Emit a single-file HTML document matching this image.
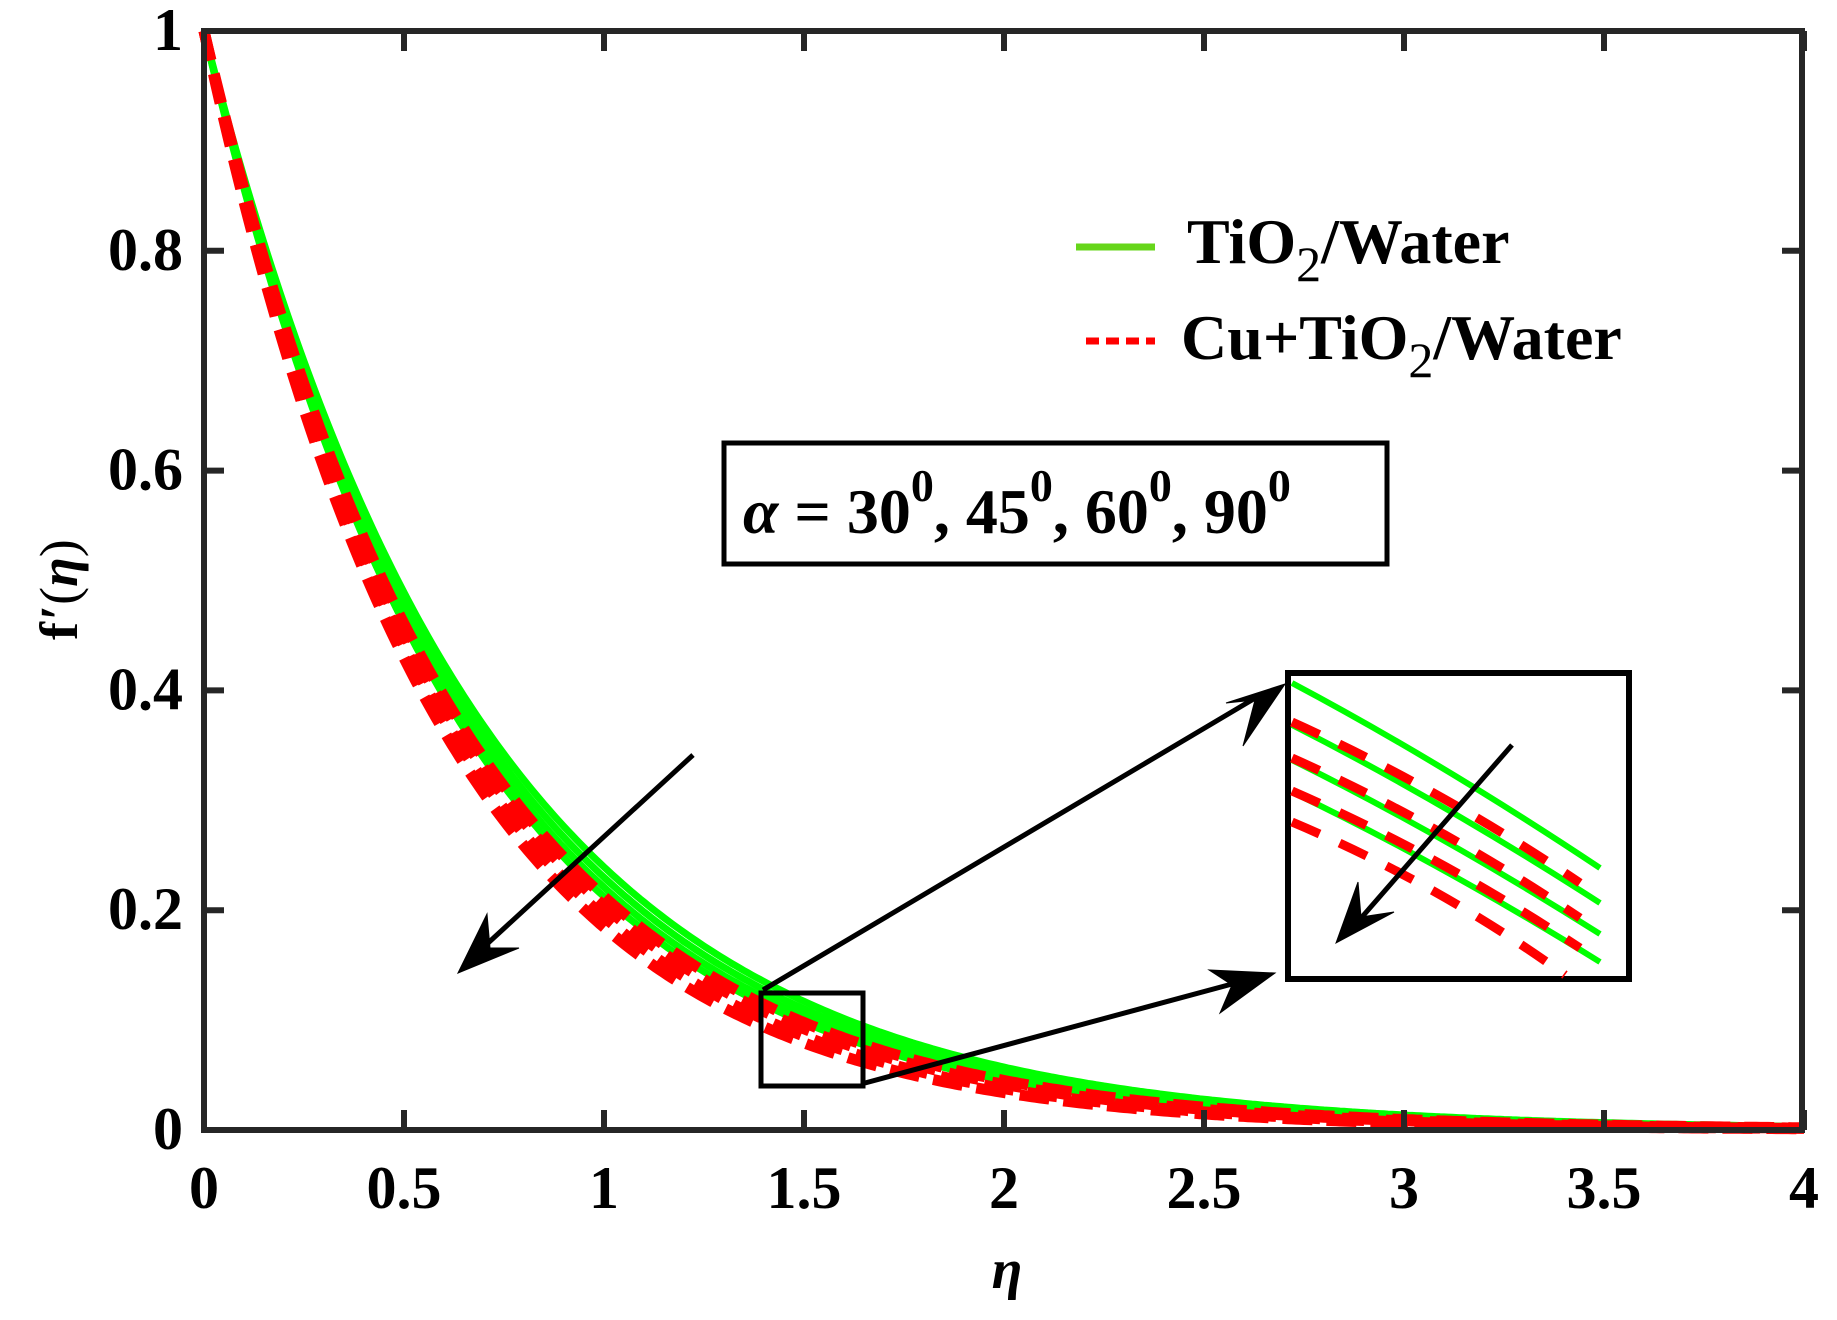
<!DOCTYPE html>
<html><head><meta charset="utf-8"><style>
html,body{margin:0;padding:0;background:#fff}
svg{display:block}
text{font-family:"Liberation Serif",serif;font-weight:bold;fill:#000}
</style></head><body>
<svg id="s" width="1837" height="1320" viewBox="0 0 1837 1320" xmlns="http://www.w3.org/2000/svg">
<g id="curves"></g>
<rect x="204" y="31" width="1598" height="1099" fill="none" stroke="#262626" stroke-width="6"/>
<g id="ticks" stroke="#262626" stroke-width="6"></g>
<g id="labels" font-size="60"></g>
<text x="1007" y="1288" font-size="56" font-style="italic" text-anchor="middle">η</text>
<text transform="translate(77,640) rotate(-90)" font-size="54">f<tspan dx="2">′</tspan><tspan font-weight="normal">(</tspan><tspan font-style="italic">η</tspan><tspan font-weight="normal">)</tspan></text>
<line x1="1076" y1="247" x2="1155" y2="247" stroke="#66d61a" stroke-width="7"/>
<text x="1187" y="263" font-size="64">TiO<tspan font-weight="normal" dy="18" font-size="50">2</tspan><tspan dy="-18">/Water</tspan></text>
<line x1="1086" y1="341" x2="1155" y2="341" stroke="#ff0000" stroke-width="7" stroke-dasharray="13 7"/>
<text x="1181" y="359" font-size="64">Cu+TiO<tspan font-weight="normal" dy="18" font-size="50">2</tspan><tspan dy="-18">/Water</tspan></text>
<rect x="724" y="443" width="663" height="121" fill="none" stroke="#000" stroke-width="5"/>
<text x="743" y="533" font-size="64" font-weight="normal"><tspan font-weight="bold" font-style="italic">α</tspan> = 30<tspan dy="-32" font-size="46">0</tspan><tspan dy="32">, 45</tspan><tspan dy="-32" font-size="46">0</tspan><tspan dy="32">, 60</tspan><tspan dy="-32" font-size="46">0</tspan><tspan dy="32">, 90</tspan><tspan dy="-32" font-size="46">0</tspan></text>
<rect x="1288" y="673" width="341" height="306" fill="none" stroke="#000" stroke-width="6"/>
<g id="inset"></g>
<rect x="761" y="993" width="102" height="93" fill="none" stroke="#000" stroke-width="5"/>
<g stroke="#000" stroke-width="5" fill="#000">
<line x1="693" y1="755" x2="475" y2="955"/>
<path d="M458,973 L487,914 L490,948 L519,948 Z" stroke-width="1"/>
<line x1="763" y1="990" x2="1262" y2="694"/>
<path d="M1285,684 L1226,703 L1255,700 L1243,746 Z" stroke-width="1"/>
<line x1="865" y1="1083" x2="1258" y2="977"/>
<path d="M1275,973 L1209,970 L1232,985 L1220,1013 Z" stroke-width="1"/>
<line x1="1512" y1="745" x2="1355" y2="925"/>
<path d="M1336,943 L1358,882 L1361,917 L1394,912 Z" stroke-width="1"/>
</g>
</svg>
<script>
var NS="http://www.w3.org/2000/svg";
function el(t,a,p){var e=document.createElementNS(NS,t);for(var k in a)e.setAttribute(k,a[k]);p.appendChild(e);return e;}
var X=function(v){return 204+400*v},Y=function(v){return 1130-1099*v};
var cg=document.getElementById('curves');
function curve(k){var d="";for(var i=0;i<=400;i++){var x=i/100;d+=(i?"L":"M")+X(x).toFixed(1)+","+Y(Math.exp(-k*x)).toFixed(1);}return d;}
[1.43,1.47,1.51,1.55].forEach(function(k){el('path',{d:curve(k),fill:'none',stroke:'#00ff00','stroke-width':7},cg);});
[1.55,1.59,1.64,1.69].forEach(function(k){el('path',{d:curve(k),fill:'none',stroke:'#ff0000','stroke-width':11,'stroke-dasharray':'30 14'},cg);});
var tg=document.getElementById('ticks'),lg=document.getElementById('labels');
var xl=["0","0.5","1","1.5","2","2.5","3","3.5","4"];
for(var i=0;i<=8;i++){var x=X(i*0.5);
 el('line',{x1:x,y1:1130,x2:x,y2:1110},tg);el('line',{x1:x,y1:31,x2:x,y2:51},tg);
 var t=el('text',{x:x,y:1208,'text-anchor':'middle'},lg);t.textContent=xl[i];}
var yl=["0","0.2","0.4","0.6","0.8","1"];
for(var j=0;j<=5;j++){var y=Y(j*0.2);
 el('line',{x1:204,y1:y,x2:224,y2:y},tg);el('line',{x1:1802,y1:y,x2:1782,y2:y},tg);
 var t=el('text',{x:183,y:y+19,'text-anchor':'end'},lg);t.textContent=yl[j];}
var ig=document.getElementById('inset');
function il(y0,y1,col,w,dash,x1){var d="M1292,"+y0+" Q1440,"+((y0+y1)/2-14)+" "+x1+","+y1;
 var a={d:d,fill:'none',stroke:col,'stroke-width':w};if(dash)a['stroke-dasharray']=dash;el('path',a,ig);}
il(683,868,'#00ff00',6,null,1600);il(725,903,'#00ff00',6,null,1600);il(760,934,'#00ff00',6,null,1600);il(792,962,'#00ff00',6,null,1600);
il(722,883,'#ff0000',9,'30 22',1580);il(758,918,'#ff0000',9,'30 22',1580);il(791,948,'#ff0000',9,'30 22',1580);il(822,975,'#ff0000',9,'30 22',1565);
</script>
</body></html>
